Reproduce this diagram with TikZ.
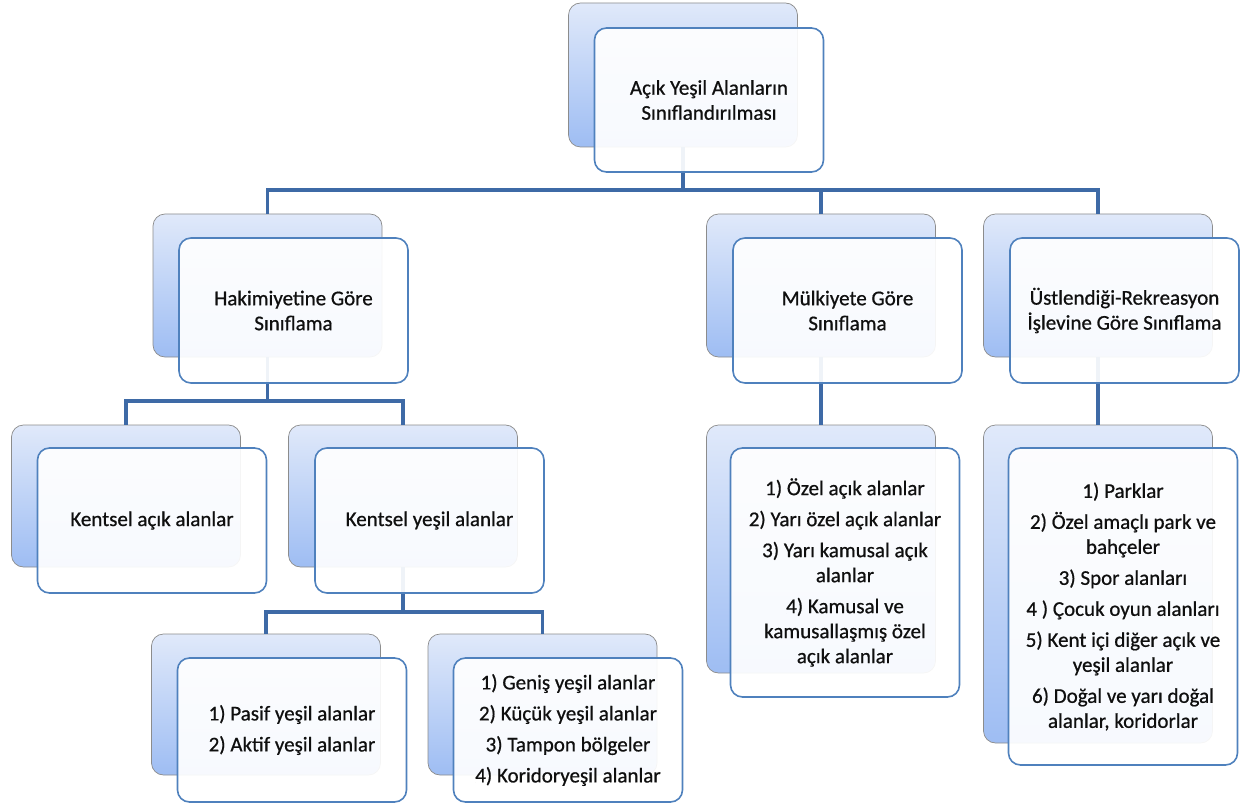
\documentclass[tikz,border=0pt]{standalone}
\usepackage{fontspec}
\setmainfont{Carlito}
\newfontfamily\heavy{Carlito}[FakeBold=0.7]
\definecolor{connc}{RGB}{62,106,166}
\definecolor{fborder}{RGB}{79,129,189}
\definecolor{btop}{RGB}{224,233,250}
\definecolor{bbot}{RGB}{158,189,243}
\definecolor{txt}{RGB}{15,15,15}
\tikzset{
  backbox/.style={rounded corners=12pt, draw=black!45, line width=0.7pt, top color=btop, bottom color=bbot, minimum width=229pt, inner sep=0pt, outer sep=0pt},
  frontbox/.style={rounded corners=12pt, draw=fborder, line width=1.6pt, fill=white, fill opacity=0.92, text opacity=1, minimum width=229pt, align=center, font=\heavy\fontsize{21}{25}\selectfont, text=txt, inner sep=0pt, outer sep=0pt},
  conn/.style={draw=connc, line width=3.6pt}
}
\begin{document}
\begin{tikzpicture}[x=1pt,y=-1pt]
\useasboundingbox (0,0) rectangle (1242,805);
% back boxes
\node[backbox, minimum height=144pt] (bT) at (683,75) {};
\node[backbox, minimum height=143pt] (bH) at (267.5,285.5) {};
\node[backbox, minimum height=143pt] (bM) at (821,285.5) {};
\node[backbox, minimum height=143pt] (bU) at (1098,285.5) {};
\node[backbox, minimum height=142pt] (bKA) at (126,496) {};
\node[backbox, minimum height=142pt] (bKY) at (403,496) {};
\node[backbox, minimum height=248pt] (bMC) at (821,549) {};
\node[backbox, minimum height=318pt] (bUC) at (1098,584) {};
\node[backbox, minimum height=141pt] (bP) at (266,704.5) {};
\node[backbox, minimum height=141pt] (bG) at (542.5,704.5) {};
% connectors
\draw[conn] (bT.south) -- ++(0,43) coordinate (j1);
\draw[conn] (j1) -| (bH.north);
\draw[conn] (j1) -| (bM.north);
\draw[conn] (j1) -| (bU.north);
\draw[conn] (bH.south) -- ++(0,44) coordinate (j2);
\draw[conn] (j2) -| (bKA.north);
\draw[conn] (j2) -| (bKY.north);
\draw[conn] (bKY.south) -- ++(0,45) coordinate (j3);
\draw[conn] (j3) -| (bP.north);
\draw[conn] (j3) -| (bG.north);
\draw[conn] (bM.south) -- (bMC.north);
\draw[conn] (bU.south) -- (bUC.north);
% front boxes
\node[frontbox, minimum height=144pt] (fT) at (709,100) {Açık Yeşil Alanların\\Sınıflandırılması};
\node[frontbox, minimum height=145pt] (fH) at (293.5,310.5) {Hakimiyetine Göre\\Sınıflama};
\node[frontbox, minimum height=145pt] (fM) at (847.5,310.5) {Mülkiyete Göre\\Sınıflama};
\node[frontbox, minimum height=145pt] (fU) at (1124.5,310.5) {Üstlendiği-Rekreasyon\\İşlevine Göre Sınıflama};
\node[frontbox, minimum height=145pt] (fKA) at (152,520.5) {Kentsel açık alanlar};
\node[frontbox, minimum height=145pt] (fKY) at (429.5,520.5) {Kentsel yeşil alanlar};
\node[frontbox, minimum height=249pt] (fMC) at (845,572.5) {1) Özel açık alanlar\\[6pt]2) Yarı özel açık alanlar\\[6pt]3) Yarı kamusal açık\\alanlar\\[6pt]4) Kamusal ve\\kamusallaşmış özel\\açık alanlar};
\node[frontbox, minimum height=317pt] (fUC) at (1123,606.5) {1) Parklar\\[6pt]2) Özel amaçlı park ve\\bahçeler\\[6pt]3) Spor alanları\\[6pt]4 ) Çocuk oyun alanları\\[6pt]5) Kent içi diğer açık ve\\yeşil alanlar\\[6pt]6) Doğal ve yarı doğal\\alanlar, koridorlar};
\node[frontbox, minimum height=144pt] (fP) at (292,730) {1) Pasif yeşil alanlar\\[6pt]2) Aktif yeşil alanlar};
\node[frontbox, minimum height=144pt] (fG) at (568,730) {1) Geniş yeşil alanlar\\[6pt]2) Küçük yeşil alanlar\\[6pt]3) Tampon bölgeler\\[6pt]4) Koridoryeşil alanlar};
\end{tikzpicture}
\end{document}
